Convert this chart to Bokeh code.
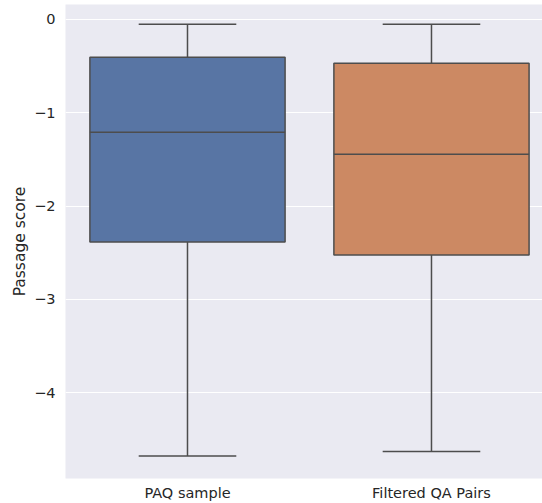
from bokeh.plotting import figure
from bokeh.models import Range1d, FixedTicker, ColumnDataSource
from bokeh.embed import file_html
from bokeh.resources import INLINE

categories = ["PAQ sample", "Filtered QA Pairs"]
q1 = [-2.385, -2.524]
median = [-1.21, -1.444]
q3 = [-0.406, -0.47]
whisker_low = [-4.68, -4.63]
whisker_high = [-0.053, -0.053]
colors = ["#5875A4", "#CC8963"]
y_ticks = [0, -1, -2, -3, -4]

pos = list(range(len(categories)))
box_w = 0.8
cap_w = 0.4

src = ColumnDataSource(dict(
    x=pos, q1=q1, q3=q3, med=median, lo=whisker_low, hi=whisker_high, color=colors,
    bl=[x - box_w / 2 for x in pos], br=[x + box_w / 2 for x in pos],
    cl=[x - cap_w / 2 for x in pos], cr=[x + cap_w / 2 for x in pos],
))

p = figure(width=542, height=503, output_backend="svg", toolbar_location=None,
           x_range=Range1d(-0.5, 1.455), y_range=Range1d(-4.92, 0.16),
           min_border_left=65, min_border_right=0, min_border_top=4, min_border_bottom=24)
p.outline_line_color = None
p.background_fill_color = "#EAEAF2"
p.border_fill_color = "white"
p.xgrid.grid_line_color = None
p.ygrid.grid_line_color = "white"
p.ygrid.grid_line_width = 1.2

line_col = "#4d4d4d"
lw = 1.5
# whiskers
p.segment(x0="x", y0="q3", x1="x", y1="hi", source=src, line_color=line_col, line_width=lw)
p.segment(x0="x", y0="q1", x1="x", y1="lo", source=src, line_color=line_col, line_width=lw)
p.segment(x0="cl", y0="hi", x1="cr", y1="hi", source=src, line_color=line_col, line_width=lw)
p.segment(x0="cl", y0="lo", x1="cr", y1="lo", source=src, line_color=line_col, line_width=lw)
# boxes
p.vbar(x="x", width=box_w, bottom="q1", top="q3", source=src, fill_color="color",
       line_color=line_col, line_width=lw)
p.segment(x0="bl", y0="med", x1="br", y1="med", source=src, line_color=line_col, line_width=lw)

p.xaxis.ticker = FixedTicker(ticks=pos)
p.xaxis.major_label_overrides = {i: c for i, c in enumerate(categories)}
p.yaxis.ticker = FixedTicker(ticks=y_ticks)
p.yaxis.major_label_overrides = {t: ("0" if t == 0 else "\u2212" + str(abs(t))) for t in y_ticks}
p.yaxis.axis_label = "Passage score"

for ax in (p.xaxis, p.yaxis):
    ax.axis_line_color = None
    ax.major_tick_line_color = None
    ax.minor_tick_line_color = None
    ax.major_tick_out = 0
    ax.major_tick_in = 0
    ax.major_label_text_font = "DejaVu Sans"
    ax.major_label_text_font_size = "14.5px"
    ax.major_label_text_color = "#262626"
    ax.axis_label_text_font = "DejaVu Sans"
    ax.axis_label_text_font_size = "15.5px"
    ax.axis_label_text_font_style = "normal"
    ax.axis_label_text_color = "#262626"

p.xaxis.major_label_standoff = 6
p.yaxis.major_label_standoff = 10
p.yaxis.axis_label_standoff = 2

open("out.html", "w").write(file_html(p, INLINE))
